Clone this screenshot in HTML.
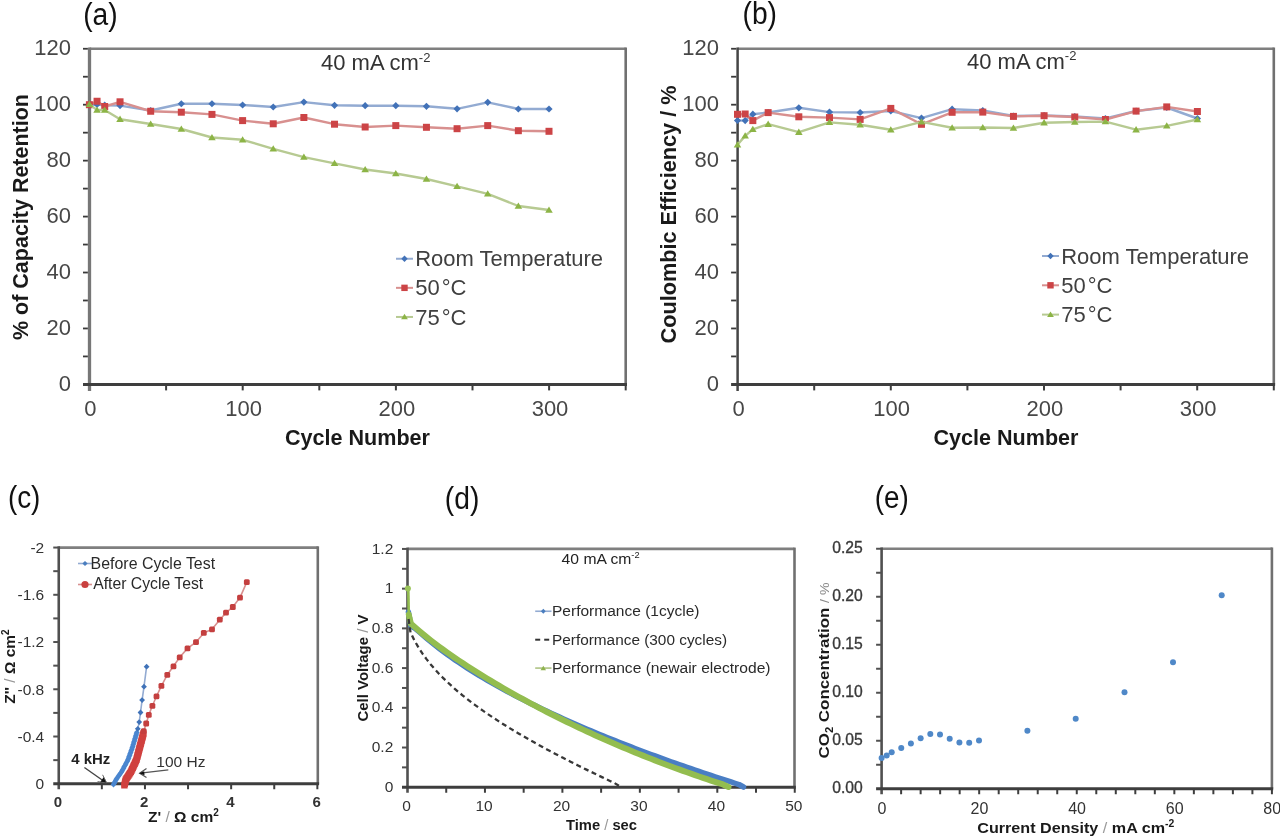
<!DOCTYPE html>
<html><head><meta charset="utf-8"><title>Figure</title>
<style>html,body{margin:0;padding:0;background:#fff;overflow:hidden;width:1280px;height:837px;} svg{display:block;filter:blur(0.7px);}</style>
</head><body>
<svg width="1280" height="837" viewBox="0 0 1280 837" font-family='"Liberation Sans", sans-serif'>
<rect width="1280" height="837" fill="#fff"/>
<line x1="89.50" y1="48.75" x2="625.70" y2="48.75" stroke="#7f7f7f" stroke-width="2.6" />
<line x1="625.70" y1="47.45" x2="625.70" y2="384.40" stroke="#707070" stroke-width="2.6" />
<line x1="89.50" y1="47.45" x2="89.50" y2="390.90" stroke="#777" stroke-width="3.3" />
<line x1="83.00" y1="384.40" x2="627.00" y2="384.40" stroke="#3e3e3e" stroke-width="3" />
<line x1="83.00" y1="356.43" x2="87.85" y2="356.43" stroke="#3a3a3a" stroke-width="1.8" />
<line x1="83.00" y1="328.46" x2="87.85" y2="328.46" stroke="#3a3a3a" stroke-width="1.8" />
<line x1="83.00" y1="300.49" x2="87.85" y2="300.49" stroke="#3a3a3a" stroke-width="1.8" />
<line x1="83.00" y1="272.52" x2="87.85" y2="272.52" stroke="#3a3a3a" stroke-width="1.8" />
<line x1="83.00" y1="244.55" x2="87.85" y2="244.55" stroke="#3a3a3a" stroke-width="1.8" />
<line x1="83.00" y1="216.58" x2="87.85" y2="216.58" stroke="#3a3a3a" stroke-width="1.8" />
<line x1="83.00" y1="188.61" x2="87.85" y2="188.61" stroke="#3a3a3a" stroke-width="1.8" />
<line x1="83.00" y1="160.64" x2="87.85" y2="160.64" stroke="#3a3a3a" stroke-width="1.8" />
<line x1="83.00" y1="132.67" x2="87.85" y2="132.67" stroke="#3a3a3a" stroke-width="1.8" />
<line x1="83.00" y1="104.70" x2="87.85" y2="104.70" stroke="#3a3a3a" stroke-width="1.8" />
<line x1="83.00" y1="76.73" x2="87.85" y2="76.73" stroke="#3a3a3a" stroke-width="1.8" />
<line x1="83.00" y1="48.76" x2="87.85" y2="48.76" stroke="#3a3a3a" stroke-width="1.8" />
<line x1="166.10" y1="384.40" x2="166.10" y2="390.40" stroke="#3e3e3e" stroke-width="2" />
<line x1="242.70" y1="384.40" x2="242.70" y2="390.40" stroke="#3e3e3e" stroke-width="2" />
<line x1="319.30" y1="384.40" x2="319.30" y2="390.40" stroke="#3e3e3e" stroke-width="2" />
<line x1="395.90" y1="384.40" x2="395.90" y2="390.40" stroke="#3e3e3e" stroke-width="2" />
<line x1="472.50" y1="384.40" x2="472.50" y2="390.40" stroke="#3e3e3e" stroke-width="2" />
<line x1="549.10" y1="384.40" x2="549.10" y2="390.40" stroke="#3e3e3e" stroke-width="2" />
<line x1="625.70" y1="384.40" x2="625.70" y2="390.40" stroke="#3e3e3e" stroke-width="2" />
<text x="70.90" y="390.80" font-size="22" font-weight="normal" fill="#474747" text-anchor="end" >0</text>
<text x="70.90" y="334.86" font-size="22" font-weight="normal" fill="#474747" text-anchor="end" >20</text>
<text x="70.90" y="278.92" font-size="22" font-weight="normal" fill="#474747" text-anchor="end" >40</text>
<text x="70.90" y="222.98" font-size="22" font-weight="normal" fill="#474747" text-anchor="end" >60</text>
<text x="70.90" y="167.04" font-size="22" font-weight="normal" fill="#474747" text-anchor="end" >80</text>
<text x="70.90" y="111.10" font-size="22" font-weight="normal" fill="#474747" text-anchor="end" >100</text>
<text x="70.90" y="55.16" font-size="22" font-weight="normal" fill="#474747" text-anchor="end" >120</text>
<text x="90.40" y="416.30" font-size="22" font-weight="normal" fill="#474747" text-anchor="middle" >0</text>
<text x="243.60" y="416.30" font-size="22" font-weight="normal" fill="#474747" text-anchor="middle" >100</text>
<text x="396.80" y="416.30" font-size="22" font-weight="normal" fill="#474747" text-anchor="middle" >200</text>
<text x="550.00" y="416.30" font-size="22" font-weight="normal" fill="#474747" text-anchor="middle" >300</text>
<text x="83.20" y="24.90" font-size="31" font-weight="normal" fill="#111" text-anchor="start" textLength="34.5" lengthAdjust="spacingAndGlyphs" >(a)</text>
<text x="285.00" y="444.50" font-size="21.5" font-weight="bold" fill="#1a1a1a" text-anchor="start" textLength="145" lengthAdjust="spacingAndGlyphs" >Cycle Number</text>
<text transform="translate(27.90,217.00) rotate(-90)" x="0" y="0" font-size="21.6" font-weight="bold" fill="#1a1a1a" text-anchor="middle" textLength="246" lengthAdjust="spacingAndGlyphs" >% of Capacity Retention</text>
<text x="321.00" y="70.00" font-size="22" font-weight="normal" fill="#333" text-anchor="start" >40 mA cm<tspan font-size="13" dy="-8.5">-2</tspan></text>
<polyline points="89.40,104.70 97.06,104.50 104.72,105.20 120.04,105.60 150.68,110.50 181.32,103.75 211.96,103.75 242.60,105.00 273.24,107.00 303.88,102.10 334.52,105.30 365.16,105.70 395.80,105.70 426.44,106.30 457.08,108.80 487.72,102.30 518.36,109.00 549.00,109.00" fill="none" stroke="#93abd2" stroke-width="2.4" stroke-linejoin="round" />
<path d="M89.40,101.10L93.00,104.70L89.40,108.30L85.80,104.70Z" fill="#4272b8"/>
<path d="M97.06,100.90L100.66,104.50L97.06,108.10L93.46,104.50Z" fill="#4272b8"/>
<path d="M104.72,101.60L108.32,105.20L104.72,108.80L101.12,105.20Z" fill="#4272b8"/>
<path d="M120.04,102.00L123.64,105.60L120.04,109.20L116.44,105.60Z" fill="#4272b8"/>
<path d="M150.68,106.90L154.28,110.50L150.68,114.10L147.08,110.50Z" fill="#4272b8"/>
<path d="M181.32,100.15L184.92,103.75L181.32,107.35L177.72,103.75Z" fill="#4272b8"/>
<path d="M211.96,100.15L215.56,103.75L211.96,107.35L208.36,103.75Z" fill="#4272b8"/>
<path d="M242.60,101.40L246.20,105.00L242.60,108.60L239.00,105.00Z" fill="#4272b8"/>
<path d="M273.24,103.40L276.84,107.00L273.24,110.60L269.64,107.00Z" fill="#4272b8"/>
<path d="M303.88,98.50L307.48,102.10L303.88,105.70L300.28,102.10Z" fill="#4272b8"/>
<path d="M334.52,101.70L338.12,105.30L334.52,108.90L330.92,105.30Z" fill="#4272b8"/>
<path d="M365.16,102.10L368.76,105.70L365.16,109.30L361.56,105.70Z" fill="#4272b8"/>
<path d="M395.80,102.10L399.40,105.70L395.80,109.30L392.20,105.70Z" fill="#4272b8"/>
<path d="M426.44,102.70L430.04,106.30L426.44,109.90L422.84,106.30Z" fill="#4272b8"/>
<path d="M457.08,105.20L460.68,108.80L457.08,112.40L453.48,108.80Z" fill="#4272b8"/>
<path d="M487.72,98.70L491.32,102.30L487.72,105.90L484.12,102.30Z" fill="#4272b8"/>
<path d="M518.36,105.40L521.96,109.00L518.36,112.60L514.76,109.00Z" fill="#4272b8"/>
<path d="M549.00,105.40L552.60,109.00L549.00,112.60L545.40,109.00Z" fill="#4272b8"/>
<polyline points="89.40,104.70 97.06,101.25 104.72,106.50 120.04,101.80 150.68,111.25 181.32,112.20 211.96,114.40 242.60,120.60 273.24,123.80 303.88,117.50 334.52,124.20 365.16,127.00 395.80,125.60 426.44,127.30 457.08,128.70 487.72,125.60 518.36,130.70 549.00,131.30" fill="none" stroke="#d8908f" stroke-width="2.4" stroke-linejoin="round" />
<rect x="85.90" y="101.20" width="7.00" height="7.00" fill="#cc4446"/>
<rect x="93.56" y="97.75" width="7.00" height="7.00" fill="#cc4446"/>
<rect x="101.22" y="103.00" width="7.00" height="7.00" fill="#cc4446"/>
<rect x="116.54" y="98.30" width="7.00" height="7.00" fill="#cc4446"/>
<rect x="147.18" y="107.75" width="7.00" height="7.00" fill="#cc4446"/>
<rect x="177.82" y="108.70" width="7.00" height="7.00" fill="#cc4446"/>
<rect x="208.46" y="110.90" width="7.00" height="7.00" fill="#cc4446"/>
<rect x="239.10" y="117.10" width="7.00" height="7.00" fill="#cc4446"/>
<rect x="269.74" y="120.30" width="7.00" height="7.00" fill="#cc4446"/>
<rect x="300.38" y="114.00" width="7.00" height="7.00" fill="#cc4446"/>
<rect x="331.02" y="120.70" width="7.00" height="7.00" fill="#cc4446"/>
<rect x="361.66" y="123.50" width="7.00" height="7.00" fill="#cc4446"/>
<rect x="392.30" y="122.10" width="7.00" height="7.00" fill="#cc4446"/>
<rect x="422.94" y="123.80" width="7.00" height="7.00" fill="#cc4446"/>
<rect x="453.58" y="125.20" width="7.00" height="7.00" fill="#cc4446"/>
<rect x="484.22" y="122.10" width="7.00" height="7.00" fill="#cc4446"/>
<rect x="514.86" y="127.20" width="7.00" height="7.00" fill="#cc4446"/>
<rect x="545.50" y="127.80" width="7.00" height="7.00" fill="#cc4446"/>
<polyline points="89.40,104.40 97.06,110.00 104.72,110.00 120.04,119.20 150.68,124.00 181.32,129.00 211.96,137.50 242.60,139.80 273.24,148.80 303.88,157.10 334.52,163.40 365.16,169.50 395.80,173.50 426.44,179.00 457.08,186.30 487.72,193.80 518.36,206.00 549.00,210.00" fill="none" stroke="#b7ca92" stroke-width="2.4" stroke-linejoin="round" />
<path d="M89.40,100.80L93.18,107.10L85.62,107.10Z" fill="#8cb446"/>
<path d="M97.06,106.40L100.84,112.70L93.28,112.70Z" fill="#8cb446"/>
<path d="M104.72,106.40L108.50,112.70L100.94,112.70Z" fill="#8cb446"/>
<path d="M120.04,115.60L123.82,121.90L116.26,121.90Z" fill="#8cb446"/>
<path d="M150.68,120.40L154.46,126.70L146.90,126.70Z" fill="#8cb446"/>
<path d="M181.32,125.40L185.10,131.70L177.54,131.70Z" fill="#8cb446"/>
<path d="M211.96,133.90L215.74,140.20L208.18,140.20Z" fill="#8cb446"/>
<path d="M242.60,136.20L246.38,142.50L238.82,142.50Z" fill="#8cb446"/>
<path d="M273.24,145.20L277.02,151.50L269.46,151.50Z" fill="#8cb446"/>
<path d="M303.88,153.50L307.66,159.80L300.10,159.80Z" fill="#8cb446"/>
<path d="M334.52,159.80L338.30,166.10L330.74,166.10Z" fill="#8cb446"/>
<path d="M365.16,165.90L368.94,172.20L361.38,172.20Z" fill="#8cb446"/>
<path d="M395.80,169.90L399.58,176.20L392.02,176.20Z" fill="#8cb446"/>
<path d="M426.44,175.40L430.22,181.70L422.66,181.70Z" fill="#8cb446"/>
<path d="M457.08,182.70L460.86,189.00L453.30,189.00Z" fill="#8cb446"/>
<path d="M487.72,190.20L491.50,196.50L483.94,196.50Z" fill="#8cb446"/>
<path d="M518.36,202.40L522.14,208.70L514.58,208.70Z" fill="#8cb446"/>
<path d="M549.00,206.40L552.78,212.70L545.22,212.70Z" fill="#8cb446"/>
<line x1="396.00" y1="258.75" x2="413.00" y2="258.75" stroke="#93abd2" stroke-width="2" />
<path d="M404.50,255.55L407.70,258.75L404.50,261.95L401.30,258.75Z" fill="#4272b8"/>
<text x="415.20" y="266.35" font-size="22" font-weight="normal" fill="#404040" text-anchor="start" >Room Temperature</text>
<line x1="396.00" y1="287.85" x2="413.00" y2="287.85" stroke="#d8908f" stroke-width="2" />
<rect x="401.30" y="284.65" width="6.40" height="6.40" fill="#cc4446"/>
<text x="415.20" y="295.45" font-size="22" font-weight="normal" fill="#404040" text-anchor="start" >50<tspan dx="2">°C</tspan></text>
<line x1="396.00" y1="316.95" x2="413.00" y2="316.95" stroke="#b7ca92" stroke-width="2" />
<path d="M404.50,313.75L407.86,319.35L401.14,319.35Z" fill="#8cb446"/>
<text x="415.20" y="324.55" font-size="22" font-weight="normal" fill="#404040" text-anchor="start" >75<tspan dx="2">°C</tspan></text>
<line x1="737.60" y1="48.75" x2="1273.80" y2="48.75" stroke="#7f7f7f" stroke-width="2.6" />
<line x1="1273.80" y1="47.45" x2="1273.80" y2="384.40" stroke="#707070" stroke-width="2.6" />
<line x1="737.60" y1="47.45" x2="737.60" y2="390.90" stroke="#454545" stroke-width="2.5" />
<line x1="731.10" y1="384.40" x2="1275.10" y2="384.40" stroke="#3e3e3e" stroke-width="3" />
<line x1="731.10" y1="356.43" x2="736.35" y2="356.43" stroke="#3a3a3a" stroke-width="1.8" />
<line x1="731.10" y1="328.46" x2="736.35" y2="328.46" stroke="#3a3a3a" stroke-width="1.8" />
<line x1="731.10" y1="300.49" x2="736.35" y2="300.49" stroke="#3a3a3a" stroke-width="1.8" />
<line x1="731.10" y1="272.52" x2="736.35" y2="272.52" stroke="#3a3a3a" stroke-width="1.8" />
<line x1="731.10" y1="244.55" x2="736.35" y2="244.55" stroke="#3a3a3a" stroke-width="1.8" />
<line x1="731.10" y1="216.58" x2="736.35" y2="216.58" stroke="#3a3a3a" stroke-width="1.8" />
<line x1="731.10" y1="188.61" x2="736.35" y2="188.61" stroke="#3a3a3a" stroke-width="1.8" />
<line x1="731.10" y1="160.64" x2="736.35" y2="160.64" stroke="#3a3a3a" stroke-width="1.8" />
<line x1="731.10" y1="132.67" x2="736.35" y2="132.67" stroke="#3a3a3a" stroke-width="1.8" />
<line x1="731.10" y1="104.70" x2="736.35" y2="104.70" stroke="#3a3a3a" stroke-width="1.8" />
<line x1="731.10" y1="76.73" x2="736.35" y2="76.73" stroke="#3a3a3a" stroke-width="1.8" />
<line x1="731.10" y1="48.76" x2="736.35" y2="48.76" stroke="#3a3a3a" stroke-width="1.8" />
<line x1="814.20" y1="384.40" x2="814.20" y2="390.40" stroke="#3e3e3e" stroke-width="2" />
<line x1="890.80" y1="384.40" x2="890.80" y2="390.40" stroke="#3e3e3e" stroke-width="2" />
<line x1="967.40" y1="384.40" x2="967.40" y2="390.40" stroke="#3e3e3e" stroke-width="2" />
<line x1="1044.00" y1="384.40" x2="1044.00" y2="390.40" stroke="#3e3e3e" stroke-width="2" />
<line x1="1120.60" y1="384.40" x2="1120.60" y2="390.40" stroke="#3e3e3e" stroke-width="2" />
<line x1="1197.20" y1="384.40" x2="1197.20" y2="390.40" stroke="#3e3e3e" stroke-width="2" />
<line x1="1273.80" y1="384.40" x2="1273.80" y2="390.40" stroke="#3e3e3e" stroke-width="2" />
<text x="719.00" y="390.80" font-size="22" font-weight="normal" fill="#474747" text-anchor="end" >0</text>
<text x="719.00" y="334.86" font-size="22" font-weight="normal" fill="#474747" text-anchor="end" >20</text>
<text x="719.00" y="278.92" font-size="22" font-weight="normal" fill="#474747" text-anchor="end" >40</text>
<text x="719.00" y="222.98" font-size="22" font-weight="normal" fill="#474747" text-anchor="end" >60</text>
<text x="719.00" y="167.04" font-size="22" font-weight="normal" fill="#474747" text-anchor="end" >80</text>
<text x="719.00" y="111.10" font-size="22" font-weight="normal" fill="#474747" text-anchor="end" >100</text>
<text x="719.00" y="55.16" font-size="22" font-weight="normal" fill="#474747" text-anchor="end" >120</text>
<text x="738.50" y="416.30" font-size="22" font-weight="normal" fill="#474747" text-anchor="middle" >0</text>
<text x="891.70" y="416.30" font-size="22" font-weight="normal" fill="#474747" text-anchor="middle" >100</text>
<text x="1044.90" y="416.30" font-size="22" font-weight="normal" fill="#474747" text-anchor="middle" >200</text>
<text x="1198.10" y="416.30" font-size="22" font-weight="normal" fill="#474747" text-anchor="middle" >300</text>
<text x="742.50" y="24.40" font-size="31" font-weight="normal" fill="#111" text-anchor="start" textLength="34.5" lengthAdjust="spacingAndGlyphs" >(b)</text>
<text x="933.50" y="444.50" font-size="21.5" font-weight="bold" fill="#1a1a1a" text-anchor="start" textLength="145" lengthAdjust="spacingAndGlyphs" >Cycle Number</text>
<text transform="translate(675.60,214.50) rotate(-90)" x="0" y="0" font-size="21.6" font-weight="bold" fill="#1a1a1a" text-anchor="middle" textLength="258" lengthAdjust="spacingAndGlyphs" >Coulombic Efficiency / %</text>
<text x="967.00" y="68.75" font-size="22" font-weight="normal" fill="#333" text-anchor="start" >40 mA cm<tspan font-size="13" dy="-8.5">-2</tspan></text>
<polyline points="737.50,120.50 745.16,120.60 752.83,114.20 768.16,112.50 798.82,107.80 829.48,112.10 860.14,112.50 890.80,111.00 921.46,118.10 952.12,109.20 982.78,110.50 1013.44,116.00 1044.10,115.50 1074.76,116.50 1105.42,118.50 1136.08,111.00 1166.74,107.50 1197.40,118.50" fill="none" stroke="#93abd2" stroke-width="2.4" stroke-linejoin="round" />
<path d="M737.50,116.90L741.10,120.50L737.50,124.10L733.90,120.50Z" fill="#4272b8"/>
<path d="M745.16,117.00L748.76,120.60L745.16,124.20L741.56,120.60Z" fill="#4272b8"/>
<path d="M752.83,110.60L756.43,114.20L752.83,117.80L749.23,114.20Z" fill="#4272b8"/>
<path d="M768.16,108.90L771.76,112.50L768.16,116.10L764.56,112.50Z" fill="#4272b8"/>
<path d="M798.82,104.20L802.42,107.80L798.82,111.40L795.22,107.80Z" fill="#4272b8"/>
<path d="M829.48,108.50L833.08,112.10L829.48,115.70L825.88,112.10Z" fill="#4272b8"/>
<path d="M860.14,108.90L863.74,112.50L860.14,116.10L856.54,112.50Z" fill="#4272b8"/>
<path d="M890.80,107.40L894.40,111.00L890.80,114.60L887.20,111.00Z" fill="#4272b8"/>
<path d="M921.46,114.50L925.06,118.10L921.46,121.70L917.86,118.10Z" fill="#4272b8"/>
<path d="M952.12,105.60L955.72,109.20L952.12,112.80L948.52,109.20Z" fill="#4272b8"/>
<path d="M982.78,106.90L986.38,110.50L982.78,114.10L979.18,110.50Z" fill="#4272b8"/>
<path d="M1013.44,112.40L1017.04,116.00L1013.44,119.60L1009.84,116.00Z" fill="#4272b8"/>
<path d="M1044.10,111.90L1047.70,115.50L1044.10,119.10L1040.50,115.50Z" fill="#4272b8"/>
<path d="M1074.76,112.90L1078.36,116.50L1074.76,120.10L1071.16,116.50Z" fill="#4272b8"/>
<path d="M1105.42,114.90L1109.02,118.50L1105.42,122.10L1101.82,118.50Z" fill="#4272b8"/>
<path d="M1136.08,107.40L1139.68,111.00L1136.08,114.60L1132.48,111.00Z" fill="#4272b8"/>
<path d="M1166.74,103.90L1170.34,107.50L1166.74,111.10L1163.14,107.50Z" fill="#4272b8"/>
<path d="M1197.40,114.90L1201.00,118.50L1197.40,122.10L1193.80,118.50Z" fill="#4272b8"/>
<polyline points="737.50,114.30 745.16,114.00 752.83,120.60 768.16,112.60 798.82,116.80 829.48,117.60 860.14,119.40 890.80,108.40 921.46,124.30 952.12,112.30 982.78,112.10 1013.44,116.40 1044.10,115.70 1074.76,117.00 1105.42,119.50 1136.08,111.10 1166.74,106.90 1197.40,111.50" fill="none" stroke="#d8908f" stroke-width="2.4" stroke-linejoin="round" />
<rect x="734.00" y="110.80" width="7.00" height="7.00" fill="#cc4446"/>
<rect x="741.66" y="110.50" width="7.00" height="7.00" fill="#cc4446"/>
<rect x="749.33" y="117.10" width="7.00" height="7.00" fill="#cc4446"/>
<rect x="764.66" y="109.10" width="7.00" height="7.00" fill="#cc4446"/>
<rect x="795.32" y="113.30" width="7.00" height="7.00" fill="#cc4446"/>
<rect x="825.98" y="114.10" width="7.00" height="7.00" fill="#cc4446"/>
<rect x="856.64" y="115.90" width="7.00" height="7.00" fill="#cc4446"/>
<rect x="887.30" y="104.90" width="7.00" height="7.00" fill="#cc4446"/>
<rect x="917.96" y="120.80" width="7.00" height="7.00" fill="#cc4446"/>
<rect x="948.62" y="108.80" width="7.00" height="7.00" fill="#cc4446"/>
<rect x="979.28" y="108.60" width="7.00" height="7.00" fill="#cc4446"/>
<rect x="1009.94" y="112.90" width="7.00" height="7.00" fill="#cc4446"/>
<rect x="1040.60" y="112.20" width="7.00" height="7.00" fill="#cc4446"/>
<rect x="1071.26" y="113.50" width="7.00" height="7.00" fill="#cc4446"/>
<rect x="1101.92" y="116.00" width="7.00" height="7.00" fill="#cc4446"/>
<rect x="1132.58" y="107.60" width="7.00" height="7.00" fill="#cc4446"/>
<rect x="1163.24" y="103.40" width="7.00" height="7.00" fill="#cc4446"/>
<rect x="1193.90" y="108.00" width="7.00" height="7.00" fill="#cc4446"/>
<polyline points="737.50,144.80 745.16,135.90 752.83,129.30 768.16,124.20 798.82,132.20 829.48,122.40 860.14,124.70 890.80,129.80 921.46,121.90 952.12,127.80 982.78,127.50 1013.44,128.00 1044.10,122.70 1074.76,122.00 1105.42,121.60 1136.08,129.70 1166.74,125.90 1197.40,119.50" fill="none" stroke="#b7ca92" stroke-width="2.4" stroke-linejoin="round" />
<path d="M737.50,141.20L741.28,147.50L733.72,147.50Z" fill="#8cb446"/>
<path d="M745.16,132.30L748.94,138.60L741.38,138.60Z" fill="#8cb446"/>
<path d="M752.83,125.70L756.61,132.00L749.05,132.00Z" fill="#8cb446"/>
<path d="M768.16,120.60L771.94,126.90L764.38,126.90Z" fill="#8cb446"/>
<path d="M798.82,128.60L802.60,134.90L795.04,134.90Z" fill="#8cb446"/>
<path d="M829.48,118.80L833.26,125.10L825.70,125.10Z" fill="#8cb446"/>
<path d="M860.14,121.10L863.92,127.40L856.36,127.40Z" fill="#8cb446"/>
<path d="M890.80,126.20L894.58,132.50L887.02,132.50Z" fill="#8cb446"/>
<path d="M921.46,118.30L925.24,124.60L917.68,124.60Z" fill="#8cb446"/>
<path d="M952.12,124.20L955.90,130.50L948.34,130.50Z" fill="#8cb446"/>
<path d="M982.78,123.90L986.56,130.20L979.00,130.20Z" fill="#8cb446"/>
<path d="M1013.44,124.40L1017.22,130.70L1009.66,130.70Z" fill="#8cb446"/>
<path d="M1044.10,119.10L1047.88,125.40L1040.32,125.40Z" fill="#8cb446"/>
<path d="M1074.76,118.40L1078.54,124.70L1070.98,124.70Z" fill="#8cb446"/>
<path d="M1105.42,118.00L1109.20,124.30L1101.64,124.30Z" fill="#8cb446"/>
<path d="M1136.08,126.10L1139.86,132.40L1132.30,132.40Z" fill="#8cb446"/>
<path d="M1166.74,122.30L1170.52,128.60L1162.96,128.60Z" fill="#8cb446"/>
<path d="M1197.40,115.90L1201.18,122.20L1193.62,122.20Z" fill="#8cb446"/>
<line x1="1042.00" y1="256.00" x2="1059.00" y2="256.00" stroke="#93abd2" stroke-width="2" />
<path d="M1050.50,252.80L1053.70,256.00L1050.50,259.20L1047.30,256.00Z" fill="#4272b8"/>
<text x="1061.20" y="263.60" font-size="22" font-weight="normal" fill="#404040" text-anchor="start" >Room Temperature</text>
<line x1="1042.00" y1="285.30" x2="1059.00" y2="285.30" stroke="#d8908f" stroke-width="2" />
<rect x="1047.30" y="282.10" width="6.40" height="6.40" fill="#cc4446"/>
<text x="1061.20" y="292.90" font-size="22" font-weight="normal" fill="#404040" text-anchor="start" >50<tspan dx="2">°C</tspan></text>
<line x1="1042.00" y1="314.60" x2="1059.00" y2="314.60" stroke="#b7ca92" stroke-width="2" />
<path d="M1050.50,311.40L1053.86,317.00L1047.14,317.00Z" fill="#8cb446"/>
<text x="1061.20" y="322.20" font-size="22" font-weight="normal" fill="#404040" text-anchor="start" >75<tspan dx="2">°C</tspan></text>
<line x1="58.75" y1="547.60" x2="317.80" y2="547.60" stroke="#7f7f7f" stroke-width="2.6" />
<line x1="317.80" y1="546.30" x2="317.80" y2="783.75" stroke="#707070" stroke-width="2.6" />
<line x1="58.75" y1="546.30" x2="58.75" y2="789.25" stroke="#505050" stroke-width="2.6" />
<line x1="53.25" y1="783.75" x2="319.10" y2="783.75" stroke="#3e3e3e" stroke-width="2.8" />
<line x1="53.25" y1="760.13" x2="58.75" y2="760.13" stroke="#505050" stroke-width="2" />
<line x1="53.25" y1="736.51" x2="58.75" y2="736.51" stroke="#505050" stroke-width="2" />
<line x1="53.25" y1="712.89" x2="58.75" y2="712.89" stroke="#505050" stroke-width="2" />
<line x1="53.25" y1="689.27" x2="58.75" y2="689.27" stroke="#505050" stroke-width="2" />
<line x1="53.25" y1="665.65" x2="58.75" y2="665.65" stroke="#505050" stroke-width="2" />
<line x1="53.25" y1="642.03" x2="58.75" y2="642.03" stroke="#505050" stroke-width="2" />
<line x1="53.25" y1="618.41" x2="58.75" y2="618.41" stroke="#505050" stroke-width="2" />
<line x1="53.25" y1="594.79" x2="58.75" y2="594.79" stroke="#505050" stroke-width="2" />
<line x1="53.25" y1="571.17" x2="58.75" y2="571.17" stroke="#505050" stroke-width="2" />
<line x1="53.25" y1="547.55" x2="58.75" y2="547.55" stroke="#505050" stroke-width="2" />
<line x1="101.85" y1="783.75" x2="101.85" y2="789.25" stroke="#3e3e3e" stroke-width="2" />
<line x1="144.95" y1="783.75" x2="144.95" y2="789.25" stroke="#3e3e3e" stroke-width="2" />
<line x1="188.05" y1="783.75" x2="188.05" y2="789.25" stroke="#3e3e3e" stroke-width="2" />
<line x1="231.15" y1="783.75" x2="231.15" y2="789.25" stroke="#3e3e3e" stroke-width="2" />
<line x1="274.25" y1="783.75" x2="274.25" y2="789.25" stroke="#3e3e3e" stroke-width="2" />
<line x1="317.35" y1="783.75" x2="317.35" y2="789.25" stroke="#3e3e3e" stroke-width="2" />
<text x="44.20" y="789.05" font-size="15.5" font-weight="normal" fill="#333" text-anchor="end" >0</text>
<text x="44.20" y="741.81" font-size="15.5" font-weight="normal" fill="#333" text-anchor="end" >-0.4</text>
<text x="44.20" y="694.57" font-size="15.5" font-weight="normal" fill="#333" text-anchor="end" >-0.8</text>
<text x="44.20" y="647.33" font-size="15.5" font-weight="normal" fill="#333" text-anchor="end" >-1.2</text>
<text x="44.20" y="600.09" font-size="15.5" font-weight="normal" fill="#333" text-anchor="end" >-1.6</text>
<text x="44.20" y="552.85" font-size="15.5" font-weight="normal" fill="#333" text-anchor="end" >-2</text>
<text x="57.95" y="807.00" font-size="15" font-weight="bold" fill="#333" text-anchor="middle" >0</text>
<text x="144.15" y="807.00" font-size="15" font-weight="bold" fill="#333" text-anchor="middle" >2</text>
<text x="230.35" y="807.00" font-size="15" font-weight="bold" fill="#333" text-anchor="middle" >4</text>
<text x="316.55" y="807.00" font-size="15" font-weight="bold" fill="#333" text-anchor="middle" >6</text>
<text x="7.90" y="508.30" font-size="31" font-weight="normal" fill="#111" text-anchor="start" textLength="32.5" lengthAdjust="spacingAndGlyphs" >(c)</text>
<text x="148.00" y="822.20" font-size="15.5" font-weight="bold" fill="#1a1a1a" text-anchor="start" >Z' <tspan fill="#999" font-weight="normal">/</tspan> Ω cm<tspan font-size="10" dy="-6">2</tspan></text>
<text transform="translate(14.80,666.60) rotate(-90)" x="0" y="0" font-size="15.5" font-weight="bold" fill="#1a1a1a" text-anchor="middle" >Z'' <tspan fill="#999" font-weight="normal">/</tspan> Ω cm<tspan font-size="10" dy="-6">2</tspan></text>
<text x="71.20" y="764.00" font-size="15" font-weight="bold" fill="#222" text-anchor="start" textLength="39" lengthAdjust="spacingAndGlyphs" >4 kHz</text>
<line x1="84.40" y1="767.50" x2="102.50" y2="780.20" stroke="#444" stroke-width="1.4" />
<path d="M107.2,783.4 L103.8,776.9 L99.9,782.4 Z" fill="#111"/>
<path d="M102.6,774.8 L106.8,783.1 L97.6,781.6" fill="none" stroke="#666" stroke-width="1"/>
<text x="156.30" y="766.70" font-size="15.5" font-weight="normal" fill="#333" text-anchor="start" >100 Hz</text>
<line x1="168.30" y1="769.80" x2="140.50" y2="773.20" stroke="#555" stroke-width="1.3" />
<path d="M146.5,768.6 L139.6,773.3 L146.5,777.6" fill="none" stroke="#555" stroke-width="1.2"/>
<path d="M139.2,773.3 L144.2,771.2 L144.5,775.3 Z" fill="#111"/>
<polyline points="113.50,784.60 116.20,779.40 121.70,771.60 127.90,760.00 132.10,748.30 135.60,736.70 137.20,731.00 137.80,728.80 139.20,722.10 140.50,712.50 142.10,700.10 144.00,686.70 146.60,666.70" fill="none" stroke="#93abd2" stroke-width="1.6" stroke-linejoin="round" />
<path d="M113.50,781.70L116.40,784.60L113.50,787.50L110.60,784.60Z" fill="#4a86cf"/>
<path d="M114.24,780.28L117.14,783.18L114.24,786.08L111.34,783.18Z" fill="#4a86cf"/>
<path d="M114.97,778.86L117.87,781.76L114.97,784.66L112.07,781.76Z" fill="#4a86cf"/>
<path d="M115.71,777.44L118.61,780.34L115.71,783.24L112.81,780.34Z" fill="#4a86cf"/>
<path d="M116.51,776.06L119.41,778.96L116.51,781.86L113.61,778.96Z" fill="#4a86cf"/>
<path d="M117.43,774.75L120.33,777.65L117.43,780.55L114.53,777.65Z" fill="#4a86cf"/>
<path d="M118.36,773.44L121.26,776.34L118.36,779.24L115.46,776.34Z" fill="#4a86cf"/>
<path d="M119.28,772.14L122.18,775.04L119.28,777.94L116.38,775.04Z" fill="#4a86cf"/>
<path d="M120.20,770.83L123.10,773.73L120.20,776.63L117.30,773.73Z" fill="#4a86cf"/>
<path d="M121.12,769.52L124.02,772.42L121.12,775.32L118.22,772.42Z" fill="#4a86cf"/>
<path d="M121.98,768.17L124.88,771.07L121.98,773.97L119.08,771.07Z" fill="#4a86cf"/>
<path d="M122.74,766.76L125.64,769.66L122.74,772.56L119.84,769.66Z" fill="#4a86cf"/>
<path d="M123.49,765.35L126.39,768.25L123.49,771.15L120.59,768.25Z" fill="#4a86cf"/>
<path d="M124.24,763.94L127.14,766.84L124.24,769.74L121.34,766.84Z" fill="#4a86cf"/>
<path d="M125.00,762.53L127.90,765.43L125.00,768.33L122.10,765.43Z" fill="#4a86cf"/>
<path d="M125.75,761.12L128.65,764.02L125.75,766.92L122.85,764.02Z" fill="#4a86cf"/>
<path d="M126.51,759.71L129.41,762.61L126.51,765.51L123.61,762.61Z" fill="#4a86cf"/>
<path d="M127.26,758.30L130.16,761.20L127.26,764.10L124.36,761.20Z" fill="#4a86cf"/>
<path d="M127.98,756.87L130.88,759.77L127.98,762.67L125.08,759.77Z" fill="#4a86cf"/>
<path d="M128.52,755.36L131.42,758.26L128.52,761.16L125.62,758.26Z" fill="#4a86cf"/>
<path d="M129.06,753.86L131.96,756.76L129.06,759.66L126.16,756.76Z" fill="#4a86cf"/>
<path d="M129.60,752.35L132.50,755.25L129.60,758.15L126.70,755.25Z" fill="#4a86cf"/>
<path d="M130.14,750.85L133.04,753.75L130.14,756.65L127.24,753.75Z" fill="#4a86cf"/>
<path d="M130.69,749.34L133.59,752.24L130.69,755.14L127.79,752.24Z" fill="#4a86cf"/>
<path d="M131.23,747.84L134.13,750.74L131.23,753.64L128.33,750.74Z" fill="#4a86cf"/>
<path d="M131.77,746.33L134.67,749.23L131.77,752.13L128.87,749.23Z" fill="#4a86cf"/>
<path d="M132.28,744.81L135.18,747.71L132.28,750.61L129.38,747.71Z" fill="#4a86cf"/>
<path d="M132.74,743.28L135.64,746.18L132.74,749.08L129.84,746.18Z" fill="#4a86cf"/>
<path d="M133.20,741.75L136.10,744.65L133.20,747.55L130.30,744.65Z" fill="#4a86cf"/>
<path d="M133.66,740.22L136.56,743.12L133.66,746.02L130.76,743.12Z" fill="#4a86cf"/>
<path d="M134.13,738.69L137.03,741.59L134.13,744.49L131.23,741.59Z" fill="#4a86cf"/>
<path d="M134.59,737.15L137.49,740.05L134.59,742.95L131.69,740.05Z" fill="#4a86cf"/>
<path d="M135.05,735.62L137.95,738.52L135.05,741.42L132.15,738.52Z" fill="#4a86cf"/>
<path d="M135.51,734.09L138.41,736.99L135.51,739.89L132.61,736.99Z" fill="#4a86cf"/>
<path d="M135.95,732.55L138.85,735.45L135.95,738.35L133.05,735.45Z" fill="#4a86cf"/>
<path d="M136.38,731.01L139.28,733.91L136.38,736.81L133.48,733.91Z" fill="#4a86cf"/>
<path d="M136.82,729.47L139.72,732.37L136.82,735.27L133.92,732.37Z" fill="#4a86cf"/>
<path d="M137.80,725.90L140.70,728.80L137.80,731.70L134.90,728.80Z" fill="#3f72b8"/>
<path d="M139.20,719.20L142.10,722.10L139.20,725.00L136.30,722.10Z" fill="#3f72b8"/>
<path d="M140.50,709.60L143.40,712.50L140.50,715.40L137.60,712.50Z" fill="#3f72b8"/>
<path d="M142.10,697.20L145.00,700.10L142.10,703.00L139.20,700.10Z" fill="#3f72b8"/>
<path d="M144.00,683.80L146.90,686.70L144.00,689.60L141.10,686.70Z" fill="#3f72b8"/>
<path d="M146.60,663.80L149.50,666.70L146.60,669.60L143.70,666.70Z" fill="#3f72b8"/>
<polyline points="124.40,785.30 125.90,779.40 131.00,771.60 136.40,760.00 139.50,748.30 142.60,736.70 143.40,733.50 143.70,731.20 146.20,723.50 148.80,714.90 152.40,705.80 156.50,696.30 161.40,685.80 167.30,674.80 173.50,666.30 179.70,657.30 187.50,648.40 196.00,642.20 203.80,632.90 212.00,629.30 219.80,619.70 226.00,612.70 232.80,607.00 240.00,597.60 246.80,582.10" fill="none" stroke="#d8908f" stroke-width="1.6" stroke-linejoin="round" />
<rect x="121.20" y="782.10" width="6.40" height="6.40" fill="#d0413f"/>
<rect x="121.57" y="780.65" width="6.40" height="6.40" fill="#d0413f"/>
<rect x="121.94" y="779.19" width="6.40" height="6.40" fill="#d0413f"/>
<rect x="122.31" y="777.74" width="6.40" height="6.40" fill="#d0413f"/>
<rect x="122.68" y="776.28" width="6.40" height="6.40" fill="#d0413f"/>
<rect x="123.47" y="775.02" width="6.40" height="6.40" fill="#d0413f"/>
<rect x="124.29" y="773.76" width="6.40" height="6.40" fill="#d0413f"/>
<rect x="125.11" y="772.51" width="6.40" height="6.40" fill="#d0413f"/>
<rect x="125.94" y="771.25" width="6.40" height="6.40" fill="#d0413f"/>
<rect x="126.76" y="770.00" width="6.40" height="6.40" fill="#d0413f"/>
<rect x="127.58" y="768.74" width="6.40" height="6.40" fill="#d0413f"/>
<rect x="128.26" y="767.41" width="6.40" height="6.40" fill="#d0413f"/>
<rect x="128.89" y="766.05" width="6.40" height="6.40" fill="#d0413f"/>
<rect x="129.53" y="764.69" width="6.40" height="6.40" fill="#d0413f"/>
<rect x="130.16" y="763.33" width="6.40" height="6.40" fill="#d0413f"/>
<rect x="130.79" y="761.97" width="6.40" height="6.40" fill="#d0413f"/>
<rect x="131.43" y="760.61" width="6.40" height="6.40" fill="#d0413f"/>
<rect x="132.06" y="759.25" width="6.40" height="6.40" fill="#d0413f"/>
<rect x="132.69" y="757.89" width="6.40" height="6.40" fill="#d0413f"/>
<rect x="133.28" y="756.51" width="6.40" height="6.40" fill="#d0413f"/>
<rect x="133.66" y="755.06" width="6.40" height="6.40" fill="#d0413f"/>
<rect x="134.04" y="753.61" width="6.40" height="6.40" fill="#d0413f"/>
<rect x="134.43" y="752.16" width="6.40" height="6.40" fill="#d0413f"/>
<rect x="134.81" y="750.71" width="6.40" height="6.40" fill="#d0413f"/>
<rect x="135.20" y="749.26" width="6.40" height="6.40" fill="#d0413f"/>
<rect x="135.58" y="747.81" width="6.40" height="6.40" fill="#d0413f"/>
<rect x="135.97" y="746.36" width="6.40" height="6.40" fill="#d0413f"/>
<rect x="136.35" y="744.91" width="6.40" height="6.40" fill="#d0413f"/>
<rect x="136.74" y="743.46" width="6.40" height="6.40" fill="#d0413f"/>
<rect x="137.12" y="742.01" width="6.40" height="6.40" fill="#d0413f"/>
<rect x="137.51" y="740.57" width="6.40" height="6.40" fill="#d0413f"/>
<rect x="137.90" y="739.12" width="6.40" height="6.40" fill="#d0413f"/>
<rect x="138.29" y="737.67" width="6.40" height="6.40" fill="#d0413f"/>
<rect x="138.67" y="736.22" width="6.40" height="6.40" fill="#d0413f"/>
<rect x="139.06" y="734.77" width="6.40" height="6.40" fill="#d0413f"/>
<rect x="139.45" y="733.32" width="6.40" height="6.40" fill="#d0413f"/>
<rect x="139.81" y="731.86" width="6.40" height="6.40" fill="#d0413f"/>
<rect x="140.17" y="730.41" width="6.40" height="6.40" fill="#d0413f"/>
<rect x="140.80" y="728.30" width="5.8" height="5.8" rx="1.5" fill="#c43f3f"/>
<rect x="143.30" y="720.60" width="5.8" height="5.8" rx="1.5" fill="#c43f3f"/>
<rect x="145.90" y="712.00" width="5.8" height="5.8" rx="1.5" fill="#c43f3f"/>
<rect x="149.50" y="702.90" width="5.8" height="5.8" rx="1.5" fill="#c43f3f"/>
<rect x="153.60" y="693.40" width="5.8" height="5.8" rx="1.5" fill="#c43f3f"/>
<rect x="158.50" y="682.90" width="5.8" height="5.8" rx="1.5" fill="#c43f3f"/>
<rect x="164.40" y="671.90" width="5.8" height="5.8" rx="1.5" fill="#c43f3f"/>
<rect x="170.60" y="663.40" width="5.8" height="5.8" rx="1.5" fill="#c43f3f"/>
<rect x="176.80" y="654.40" width="5.8" height="5.8" rx="1.5" fill="#c43f3f"/>
<rect x="184.60" y="645.50" width="5.8" height="5.8" rx="1.5" fill="#c43f3f"/>
<rect x="193.10" y="639.30" width="5.8" height="5.8" rx="1.5" fill="#c43f3f"/>
<rect x="200.90" y="630.00" width="5.8" height="5.8" rx="1.5" fill="#c43f3f"/>
<rect x="209.10" y="626.40" width="5.8" height="5.8" rx="1.5" fill="#c43f3f"/>
<rect x="216.90" y="616.80" width="5.8" height="5.8" rx="1.5" fill="#c43f3f"/>
<rect x="223.10" y="609.80" width="5.8" height="5.8" rx="1.5" fill="#c43f3f"/>
<rect x="229.90" y="604.10" width="5.8" height="5.8" rx="1.5" fill="#c43f3f"/>
<rect x="237.10" y="594.70" width="5.8" height="5.8" rx="1.5" fill="#c43f3f"/>
<rect x="243.90" y="579.20" width="5.8" height="5.8" rx="1.5" fill="#c43f3f"/>
<line x1="78.00" y1="563.50" x2="92.00" y2="563.50" stroke="#93abd2" stroke-width="1.6" />
<path d="M85.00,560.90L87.60,563.50L85.00,566.10L82.40,563.50Z" fill="#4a7ebf"/>
<text x="90.60" y="568.75" font-size="16" font-weight="normal" fill="#2a2a2a" text-anchor="start" textLength="124.5" lengthAdjust="spacingAndGlyphs" >Before Cycle Test</text>
<line x1="78.00" y1="584.50" x2="92.00" y2="584.50" stroke="#d8908f" stroke-width="1.6" />
<circle cx="85.00" cy="584.50" r="3.6" fill="#c9403f"/>
<text x="93.20" y="588.75" font-size="15.6" font-weight="normal" fill="#2a2a2a" text-anchor="start" textLength="110" lengthAdjust="spacingAndGlyphs" >After Cycle Test</text>
<line x1="407.50" y1="548.90" x2="794.50" y2="548.90" stroke="#7f7f7f" stroke-width="2.6" />
<line x1="794.50" y1="547.60" x2="794.50" y2="787.25" stroke="#707070" stroke-width="2.6" />
<line x1="407.50" y1="547.60" x2="407.50" y2="792.75" stroke="#505050" stroke-width="2.6" />
<line x1="402.00" y1="787.25" x2="795.80" y2="787.25" stroke="#3e3e3e" stroke-width="2.8" />
<line x1="402.00" y1="767.39" x2="407.50" y2="767.39" stroke="#505050" stroke-width="2" />
<line x1="402.00" y1="747.53" x2="407.50" y2="747.53" stroke="#505050" stroke-width="2" />
<line x1="402.00" y1="727.67" x2="407.50" y2="727.67" stroke="#505050" stroke-width="2" />
<line x1="402.00" y1="707.81" x2="407.50" y2="707.81" stroke="#505050" stroke-width="2" />
<line x1="402.00" y1="687.95" x2="407.50" y2="687.95" stroke="#505050" stroke-width="2" />
<line x1="402.00" y1="668.09" x2="407.50" y2="668.09" stroke="#505050" stroke-width="2" />
<line x1="402.00" y1="648.23" x2="407.50" y2="648.23" stroke="#505050" stroke-width="2" />
<line x1="402.00" y1="628.37" x2="407.50" y2="628.37" stroke="#505050" stroke-width="2" />
<line x1="402.00" y1="608.51" x2="407.50" y2="608.51" stroke="#505050" stroke-width="2" />
<line x1="402.00" y1="588.65" x2="407.50" y2="588.65" stroke="#505050" stroke-width="2" />
<line x1="402.00" y1="568.79" x2="407.50" y2="568.79" stroke="#505050" stroke-width="2" />
<line x1="402.00" y1="548.93" x2="407.50" y2="548.93" stroke="#505050" stroke-width="2" />
<line x1="446.23" y1="787.25" x2="446.23" y2="792.75" stroke="#3e3e3e" stroke-width="2" />
<line x1="484.95" y1="787.25" x2="484.95" y2="792.75" stroke="#3e3e3e" stroke-width="2" />
<line x1="523.67" y1="787.25" x2="523.67" y2="792.75" stroke="#3e3e3e" stroke-width="2" />
<line x1="562.40" y1="787.25" x2="562.40" y2="792.75" stroke="#3e3e3e" stroke-width="2" />
<line x1="601.12" y1="787.25" x2="601.12" y2="792.75" stroke="#3e3e3e" stroke-width="2" />
<line x1="639.85" y1="787.25" x2="639.85" y2="792.75" stroke="#3e3e3e" stroke-width="2" />
<line x1="678.58" y1="787.25" x2="678.58" y2="792.75" stroke="#3e3e3e" stroke-width="2" />
<line x1="717.30" y1="787.25" x2="717.30" y2="792.75" stroke="#3e3e3e" stroke-width="2" />
<line x1="756.02" y1="787.25" x2="756.02" y2="792.75" stroke="#3e3e3e" stroke-width="2" />
<line x1="794.75" y1="787.25" x2="794.75" y2="792.75" stroke="#3e3e3e" stroke-width="2" />
<text x="393.30" y="791.85" font-size="15.5" font-weight="normal" fill="#333" text-anchor="end" >0</text>
<text x="393.30" y="752.13" font-size="15.5" font-weight="normal" fill="#333" text-anchor="end" >0.2</text>
<text x="393.30" y="712.41" font-size="15.5" font-weight="normal" fill="#333" text-anchor="end" >0.4</text>
<text x="393.30" y="672.69" font-size="15.5" font-weight="normal" fill="#333" text-anchor="end" >0.6</text>
<text x="393.30" y="632.97" font-size="15.5" font-weight="normal" fill="#333" text-anchor="end" >0.8</text>
<text x="393.30" y="593.25" font-size="15.5" font-weight="normal" fill="#333" text-anchor="end" >1</text>
<text x="393.30" y="553.53" font-size="15.5" font-weight="normal" fill="#333" text-anchor="end" >1.2</text>
<text x="406.60" y="811.30" font-size="15.5" font-weight="normal" fill="#333" text-anchor="middle" >0</text>
<text x="484.05" y="811.30" font-size="15.5" font-weight="normal" fill="#333" text-anchor="middle" >10</text>
<text x="561.50" y="811.30" font-size="15.5" font-weight="normal" fill="#333" text-anchor="middle" >20</text>
<text x="638.95" y="811.30" font-size="15.5" font-weight="normal" fill="#333" text-anchor="middle" >30</text>
<text x="716.40" y="811.30" font-size="15.5" font-weight="normal" fill="#333" text-anchor="middle" >40</text>
<text x="793.85" y="811.30" font-size="15.5" font-weight="normal" fill="#333" text-anchor="middle" >50</text>
<text x="444.80" y="509.10" font-size="31" font-weight="normal" fill="#111" text-anchor="start" textLength="34.5" lengthAdjust="spacingAndGlyphs" >(d)</text>
<text x="566.00" y="830.00" font-size="15" font-weight="bold" fill="#1a1a1a" text-anchor="start" textLength="71" lengthAdjust="spacingAndGlyphs" >Time <tspan fill="#999" font-weight="normal">/</tspan> sec</text>
<text transform="translate(367.80,668.00) rotate(-90)" x="0" y="0" font-size="15" font-weight="bold" fill="#1a1a1a" text-anchor="middle" textLength="107" lengthAdjust="spacingAndGlyphs" >Cell Voltage <tspan fill="#999" font-weight="normal">/</tspan> V</text>
<text x="561.60" y="564.40" font-size="15.2" font-weight="normal" fill="#222" text-anchor="start" textLength="78" lengthAdjust="spacingAndGlyphs" >40 mA cm<tspan font-size="9" dy="-6">-2</tspan></text>
<polyline points="408.40,612.00 411.00,626.21 415.00,628.39 419.00,631.70 423.00,635.15 427.00,638.57 431.00,641.89 435.00,645.12 439.00,648.24 443.00,651.28 447.00,654.22 451.00,657.09 455.00,659.88 459.00,662.60 463.00,665.26 467.00,667.86 471.00,670.40 475.00,672.89 479.00,675.33 483.00,677.72 487.00,680.07 491.00,682.38 495.00,684.65 499.00,686.88 503.00,689.08 507.00,691.24 511.00,693.38 515.00,695.48 519.00,697.55 523.00,699.59 527.00,701.61 531.00,703.60 535.00,705.56 539.00,707.50 543.00,709.42 547.00,711.32 551.00,713.19 555.00,715.04 559.00,716.87 563.00,718.69 567.00,720.48 571.00,722.25 575.00,724.01 579.00,725.75 583.00,727.47 587.00,729.17 591.00,730.86 595.00,732.53 599.00,734.19 603.00,735.83 607.00,737.46 611.00,739.07 615.00,740.67 619.00,742.25 623.00,743.83 627.00,745.38 631.00,746.93 635.00,748.46 639.00,749.98 643.00,751.49 647.00,752.99 651.00,754.47 655.00,755.94 659.00,757.40 663.00,758.85 667.00,760.29 671.00,761.72 675.00,763.14 679.00,764.55 683.00,765.95 687.00,767.33 691.00,768.71 695.00,770.08 699.00,771.44 703.00,772.79 707.00,774.13 711.00,775.46 715.00,776.78 719.00,778.09 723.00,779.40 727.00,780.69 731.00,781.98 735.00,783.25 739.00,784.52 743.50,787.00" fill="none" stroke="#4a7ec4" stroke-width="5.5" stroke-linejoin="round" stroke-linecap="round"/>
<polyline points="408.80,614.50 409.60,618.50 411.00,623.88 415.00,627.29 419.00,630.75 423.00,634.10 427.00,637.35 431.00,640.50 435.00,643.57 439.00,646.56 443.00,649.48 447.00,652.35 451.00,655.15 455.00,657.91 459.00,660.62 463.00,663.29 467.00,665.91 471.00,668.50 475.00,671.05 479.00,673.56 483.00,676.04 487.00,678.49 491.00,680.91 495.00,683.30 499.00,685.65 503.00,687.98 507.00,690.29 511.00,692.56 515.00,694.82 519.00,697.04 523.00,699.24 527.00,701.42 531.00,703.58 535.00,705.71 539.00,707.82 543.00,709.90 547.00,711.97 551.00,714.01 555.00,716.03 559.00,718.03 563.00,720.01 567.00,721.98 571.00,723.92 575.00,725.84 579.00,727.74 583.00,729.62 587.00,731.48 591.00,733.33 595.00,735.15 599.00,736.96 603.00,738.75 607.00,740.52 611.00,742.27 615.00,744.00 619.00,745.72 623.00,747.42 627.00,749.10 631.00,750.76 635.00,752.41 639.00,754.04 643.00,755.65 647.00,757.25 651.00,758.83 655.00,760.39 659.00,761.93 663.00,763.46 667.00,764.97 671.00,766.47 675.00,767.95 679.00,769.41 683.00,770.86 687.00,772.29 691.00,773.70 695.00,775.10 699.00,776.48 703.00,777.85 707.00,779.20 711.00,780.53 715.00,781.85 719.00,783.15 723.00,784.44 728.50,787.00" fill="none" stroke="#93bd4f" stroke-width="6" stroke-linejoin="round" stroke-linecap="round"/>
<line x1="408.30" y1="589.00" x2="408.80" y2="616.00" stroke="#93bd4f" stroke-width="2.6" />
<polyline points="408.50,619.00 410.50,632.39 414.50,640.57 418.50,647.53 422.50,653.64 426.50,659.13 430.50,664.16 434.50,668.82 438.50,673.19 442.50,677.32 446.50,681.23 450.50,684.96 454.50,688.53 458.50,691.97 462.50,695.28 466.50,698.48 470.50,701.58 474.50,704.59 478.50,707.51 482.50,710.36 486.50,713.14 490.50,715.86 494.50,718.52 498.50,721.12 502.50,723.67 506.50,726.18 510.50,728.64 514.50,731.05 518.50,733.43 522.50,735.77 526.50,738.08 530.50,740.36 534.50,742.60 538.50,744.82 542.50,747.01 546.50,749.17 550.50,751.31 554.50,753.42 558.50,755.52 562.50,757.59 566.50,759.64 570.50,761.68 574.50,763.69 578.50,765.69 582.50,767.68 586.50,769.65 590.50,771.60 594.50,773.54 598.50,775.47 602.50,777.39 606.50,779.29 610.50,781.18 614.50,783.06 620.00,786.50" fill="none" stroke="#383838" stroke-width="2.3" stroke-linejoin="round" stroke-dasharray="5 3.5"/>
<circle cx="407.90" cy="588.60" r="3" fill="#9bc55a"/>
<line x1="535.20" y1="611.25" x2="551.50" y2="611.25" stroke="#93abd2" stroke-width="1.6" />
<path d="M543.30,608.85L545.70,611.25L543.30,613.65L540.90,611.25Z" fill="#4a7ebf"/>
<text x="552.00" y="616.30" font-size="15.5" font-weight="normal" fill="#2a2a2a" text-anchor="start" textLength="147.5" lengthAdjust="spacingAndGlyphs" >Performance (1cycle)</text>
<line x1="535.20" y1="639.70" x2="540.20" y2="639.70" stroke="#333" stroke-width="2" />
<line x1="544.20" y1="639.70" x2="549.20" y2="639.70" stroke="#333" stroke-width="2" />
<text x="552.00" y="644.80" font-size="15.5" font-weight="normal" fill="#2a2a2a" text-anchor="start" textLength="175" lengthAdjust="spacingAndGlyphs" >Performance (300 cycles)</text>
<line x1="535.20" y1="668.10" x2="551.50" y2="668.10" stroke="#b7ca92" stroke-width="1.8" />
<path d="M543.30,665.70L546.03,670.25L540.57,670.25Z" fill="#8fb34e"/>
<text x="552.00" y="673.20" font-size="15.5" font-weight="normal" fill="#2a2a2a" text-anchor="start" textLength="218.5" lengthAdjust="spacingAndGlyphs" >Performance (newair electrode)</text>
<line x1="881.60" y1="548.75" x2="1271.90" y2="548.75" stroke="#7f7f7f" stroke-width="2.6" />
<line x1="1271.90" y1="547.45" x2="1271.90" y2="788.75" stroke="#707070" stroke-width="2.6" />
<line x1="881.60" y1="547.45" x2="881.60" y2="794.25" stroke="#505050" stroke-width="2.6" />
<line x1="876.10" y1="788.75" x2="1273.20" y2="788.75" stroke="#3e3e3e" stroke-width="2.8" />
<line x1="876.10" y1="764.75" x2="881.60" y2="764.75" stroke="#505050" stroke-width="2" />
<line x1="876.10" y1="740.75" x2="881.60" y2="740.75" stroke="#505050" stroke-width="2" />
<line x1="876.10" y1="716.75" x2="881.60" y2="716.75" stroke="#505050" stroke-width="2" />
<line x1="876.10" y1="692.75" x2="881.60" y2="692.75" stroke="#505050" stroke-width="2" />
<line x1="876.10" y1="668.75" x2="881.60" y2="668.75" stroke="#505050" stroke-width="2" />
<line x1="876.10" y1="644.75" x2="881.60" y2="644.75" stroke="#505050" stroke-width="2" />
<line x1="876.10" y1="620.75" x2="881.60" y2="620.75" stroke="#505050" stroke-width="2" />
<line x1="876.10" y1="596.75" x2="881.60" y2="596.75" stroke="#505050" stroke-width="2" />
<line x1="876.10" y1="572.75" x2="881.60" y2="572.75" stroke="#505050" stroke-width="2" />
<line x1="876.10" y1="548.75" x2="881.60" y2="548.75" stroke="#505050" stroke-width="2" />
<line x1="901.12" y1="788.75" x2="901.12" y2="794.25" stroke="#3e3e3e" stroke-width="2" />
<line x1="920.63" y1="788.75" x2="920.63" y2="794.25" stroke="#3e3e3e" stroke-width="2" />
<line x1="940.15" y1="788.75" x2="940.15" y2="794.25" stroke="#3e3e3e" stroke-width="2" />
<line x1="959.66" y1="788.75" x2="959.66" y2="794.25" stroke="#3e3e3e" stroke-width="2" />
<line x1="979.18" y1="788.75" x2="979.18" y2="794.25" stroke="#3e3e3e" stroke-width="2" />
<line x1="998.70" y1="788.75" x2="998.70" y2="794.25" stroke="#3e3e3e" stroke-width="2" />
<line x1="1018.21" y1="788.75" x2="1018.21" y2="794.25" stroke="#3e3e3e" stroke-width="2" />
<line x1="1037.73" y1="788.75" x2="1037.73" y2="794.25" stroke="#3e3e3e" stroke-width="2" />
<line x1="1057.24" y1="788.75" x2="1057.24" y2="794.25" stroke="#3e3e3e" stroke-width="2" />
<line x1="1076.76" y1="788.75" x2="1076.76" y2="794.25" stroke="#3e3e3e" stroke-width="2" />
<line x1="1096.28" y1="788.75" x2="1096.28" y2="794.25" stroke="#3e3e3e" stroke-width="2" />
<line x1="1115.79" y1="788.75" x2="1115.79" y2="794.25" stroke="#3e3e3e" stroke-width="2" />
<line x1="1135.31" y1="788.75" x2="1135.31" y2="794.25" stroke="#3e3e3e" stroke-width="2" />
<line x1="1154.82" y1="788.75" x2="1154.82" y2="794.25" stroke="#3e3e3e" stroke-width="2" />
<line x1="1174.34" y1="788.75" x2="1174.34" y2="794.25" stroke="#3e3e3e" stroke-width="2" />
<line x1="1193.86" y1="788.75" x2="1193.86" y2="794.25" stroke="#3e3e3e" stroke-width="2" />
<line x1="1213.37" y1="788.75" x2="1213.37" y2="794.25" stroke="#3e3e3e" stroke-width="2" />
<line x1="1232.89" y1="788.75" x2="1232.89" y2="794.25" stroke="#3e3e3e" stroke-width="2" />
<line x1="1252.40" y1="788.75" x2="1252.40" y2="794.25" stroke="#3e3e3e" stroke-width="2" />
<line x1="1271.92" y1="788.75" x2="1271.92" y2="794.25" stroke="#3e3e3e" stroke-width="2" />
<text x="862.80" y="793.15" font-size="16" font-weight="normal" fill="#3a3a3a" text-anchor="end" textLength="30.5" lengthAdjust="spacingAndGlyphs" stroke="#3a3a3a" stroke-width="0.35">0.00</text>
<text x="862.80" y="745.15" font-size="16" font-weight="normal" fill="#3a3a3a" text-anchor="end" textLength="30.5" lengthAdjust="spacingAndGlyphs" stroke="#3a3a3a" stroke-width="0.35">0.05</text>
<text x="862.80" y="697.15" font-size="16" font-weight="normal" fill="#3a3a3a" text-anchor="end" textLength="30.5" lengthAdjust="spacingAndGlyphs" stroke="#3a3a3a" stroke-width="0.35">0.10</text>
<text x="862.80" y="649.15" font-size="16" font-weight="normal" fill="#3a3a3a" text-anchor="end" textLength="30.5" lengthAdjust="spacingAndGlyphs" stroke="#3a3a3a" stroke-width="0.35">0.15</text>
<text x="862.80" y="601.15" font-size="16" font-weight="normal" fill="#3a3a3a" text-anchor="end" textLength="30.5" lengthAdjust="spacingAndGlyphs" stroke="#3a3a3a" stroke-width="0.35">0.20</text>
<text x="862.80" y="553.15" font-size="16" font-weight="normal" fill="#3a3a3a" text-anchor="end" textLength="30.5" lengthAdjust="spacingAndGlyphs" stroke="#3a3a3a" stroke-width="0.35">0.25</text>
<text x="881.90" y="813.70" font-size="16" font-weight="normal" fill="#333" text-anchor="middle" >0</text>
<text x="979.48" y="813.70" font-size="16" font-weight="normal" fill="#333" text-anchor="middle" >20</text>
<text x="1077.06" y="813.70" font-size="16" font-weight="normal" fill="#333" text-anchor="middle" >40</text>
<text x="1174.64" y="813.70" font-size="16" font-weight="normal" fill="#333" text-anchor="middle" >60</text>
<text x="1272.22" y="813.70" font-size="16" font-weight="normal" fill="#333" text-anchor="middle" >80</text>
<text x="874.70" y="508.30" font-size="31" font-weight="normal" fill="#111" text-anchor="start" textLength="34" lengthAdjust="spacingAndGlyphs" >(e)</text>
<text x="977.30" y="833.40" font-size="15.5" font-weight="bold" fill="#1a1a1a" text-anchor="start" textLength="197" lengthAdjust="spacingAndGlyphs" >Current Density <tspan fill="#999" font-weight="normal">/</tspan> mA cm<tspan font-size="10" dy="-6">-2</tspan></text>
<text transform="translate(829.30,670.50) rotate(-90)" x="0" y="0" font-size="15" font-weight="bold" fill="#1a1a1a" text-anchor="middle" textLength="176" lengthAdjust="spacingAndGlyphs" >CO<tspan font-size="10" dy="4">2</tspan><tspan dy="-4"> Concentration </tspan><tspan fill="#888" font-weight="normal" font-size="12.5">/ %</tspan></text>
<circle cx="881.60" cy="758.00" r="3.0" fill="#4f88c8"/>
<circle cx="886.70" cy="755.40" r="3.0" fill="#4f88c8"/>
<circle cx="891.70" cy="752.30" r="3.0" fill="#4f88c8"/>
<circle cx="901.25" cy="748.10" r="3.0" fill="#4f88c8"/>
<circle cx="910.90" cy="743.40" r="3.0" fill="#4f88c8"/>
<circle cx="920.65" cy="738.30" r="3.0" fill="#4f88c8"/>
<circle cx="930.30" cy="734.10" r="3.0" fill="#4f88c8"/>
<circle cx="940.00" cy="734.50" r="3.0" fill="#4f88c8"/>
<circle cx="949.70" cy="738.75" r="3.0" fill="#4f88c8"/>
<circle cx="959.40" cy="742.50" r="3.0" fill="#4f88c8"/>
<circle cx="969.20" cy="742.70" r="3.0" fill="#4f88c8"/>
<circle cx="979.00" cy="740.40" r="3.0" fill="#4f88c8"/>
<circle cx="1027.40" cy="730.70" r="3.0" fill="#4f88c8"/>
<circle cx="1075.70" cy="718.70" r="3.0" fill="#4f88c8"/>
<circle cx="1124.50" cy="692.30" r="3.0" fill="#4f88c8"/>
<circle cx="1173.00" cy="662.20" r="3.0" fill="#4f88c8"/>
<circle cx="1221.70" cy="595.20" r="3.0" fill="#4f88c8"/>
</svg>
</body></html>
